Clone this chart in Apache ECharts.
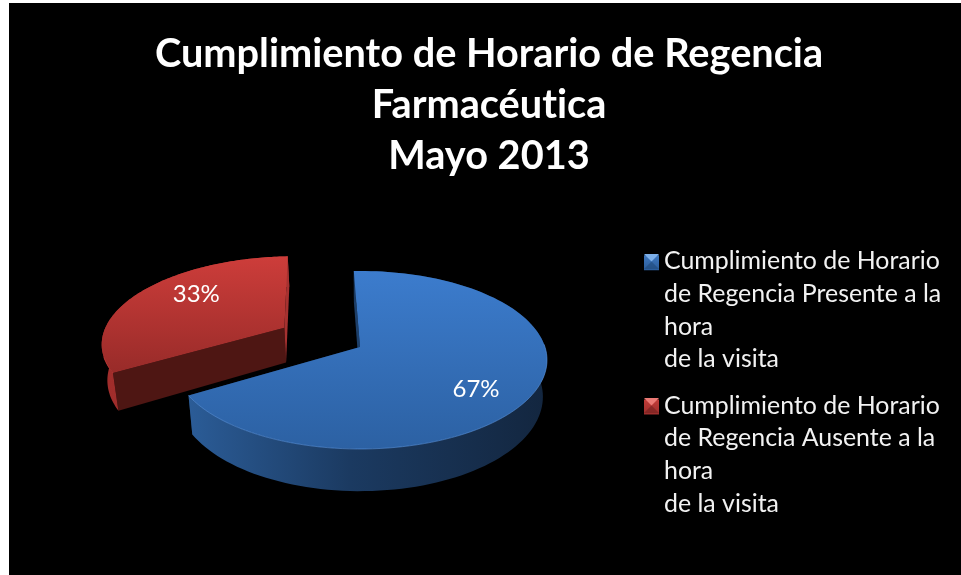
<!DOCTYPE html>
<html><head><meta charset="utf-8">
<style>html,body{margin:0;padding:0;background:#fff;overflow:hidden}
#bg{position:absolute;left:9px;top:3px;width:952px;height:572px;background:#000}
#c{position:absolute;left:0;top:0;width:961px;height:575px}</style>
<script src="https://cdn.jsdelivr.net/npm/echarts@6/dist/echarts.min.js"></script>
</head><body><div id="bg"></div><div id="c"></div>
<script>
const categories = [
  'Cumplimiento de Horario\nde Regencia Presente a la\nhora\nde la visita',
  'Cumplimiento de Horario\nde Regencia Ausente a la\nhora\nde la visita'
];
const values = [67, 33];
const titleLines = ['Cumplimiento de Horario de Regencia', 'Farmacéutica', 'Mayo 2013'];
const explode = [0, 0.48];

// plain glyphs, no "ti" ligature in canvas text
const origGetContext = HTMLCanvasElement.prototype.getContext;
HTMLCanvasElement.prototype.getContext = function () {
  const ctx = origGetContext.apply(this, arguments);
  if (ctx && 'textRendering' in ctx) ctx.textRendering = 'optimizeSpeed';
  return ctx;
};

// projection of the pie disc (perspective view)
const P = {cx: 360, cy: 347, B: 185, A: 87.1, k: 0.146, depth: 36, converge: 0.978, startDeg: -2.2};
const labelLocal = [[0.586, 0.45], [-0.549, -0.44]];
const total = values.reduce((a, b) => a + b, 0);
function project(u, v, down) {
  const d = 1 - P.k * v;
  const x = P.B * u / d;
  return [P.cx + (down ? x * P.converge : x), P.cy + P.A * v / d + (down ? P.depth / d : 0)];
}
const LG = echarts.graphic.LinearGradient;
const skins = [
  {top: new LG(0,0,0,1,[{offset:0,color:'#3c7ccd'},{offset:1,color:'#2c61a3'}]),
   wall: new LG(0,0,1,0,[{offset:0,color:'#2b5c97'},{offset:.45,color:'#1b3a61'},{offset:1,color:'#13263f'}]),
   startFace: '#1d3f69', inner: '#16304f', rim: '#5a95e0', rimOpacity: .6},
  {top: new LG(0,0,0,1,[{offset:0,color:'#cd3d3a'},{offset:1,color:'#982b29'}]),
   wall: new LG(0,0,1,0,[{offset:0,color:'#a02d2b'},{offset:1,color:'#a63130'}]),
   startFace: '#a63130', inner: '#4e1613', rim: '#c43a38', rimOpacity: .7}
];
function renderSlice(params, api) {
  const i = params.seriesIndex;
  let before = 0;
  for (let j = 0; j < i; j++) before += values[j];
  const v0 = api.value(0);
  const a0 = P.startDeg + before / total * 360;
  const a1 = a0 + v0 / total * 360;
  const mid = (a0 + a1) / 2 * Math.PI / 180;
  const ox = Math.sin(mid) * explode[i], oy = -Math.cos(mid) * explode[i];
  const arcT = [], arcB = [], disc = [];
  for (let n = 0; n <= 120; n++) {
    const r = (a0 + (a1 - a0) * n / 120) * Math.PI / 180;
    const u = Math.sin(r) + ox, w = -Math.cos(r) + oy;
    disc.push([u, w]);
    arcT.push(project(u, w, false));
    arcB.push(project(u, w, true));
  }
  const cT = project(ox, oy, false), cB = project(ox, oy, true);
  const s = skins[i];
  const children = [];
  const first = i === 0 ? s.startFace : s.inner;
  const last = i === 0 ? s.inner : s.startFace;
  children.push({type:'polygon', shape:{points:[cT, arcT[0], arcB[0], cB]}, style:{fill:first}});
  children.push({type:'polygon', shape:{points:[cT, arcT[120], arcB[120], cB]}, style:{fill:last}});
  children.push({type:'polygon', shape:{points:arcT.concat(arcB.slice().reverse())}, style:{fill:s.wall}});
  children.push({type:'polygon', shape:{points:[cT].concat(arcT)}, style:{fill:s.top}});
  const front = arcT.filter((p, n) => disc[n][1] > (i === 0 ? -0.05 : 0.1));
  children.push({type:'polyline', shape:{points:front}, style:{fill:null, stroke:s.rim, lineWidth:1, opacity:s.rimOpacity}});
  const lp = project(labelLocal[i][0] + ox, labelLocal[i][1] + oy, false);
  children.push({type:'text', x:lp[0], y:lp[1], style:{
    text: Math.round(v0 / total * 100) + '%', fill:'#fff', font:'normal normal 24px "Lato", sans-serif', fontFamily:'Lato', fontSize:24, fontWeight:'normal', align:'center', verticalAlign:'middle'}});
  return {type:'group', children};
}
const markerPath = 'path://M0 0H15V15H0Z M0 110H0.01V110.01H0Z';
function markerGlint(x, y, light, dark) {
  return [
    {type:'polygon', z:100, silent:true, shape:{points:[[x,y],[x+15,y],[x+7.5,y+7.5]]}, style:{fill:light}},
    {type:'polygon', z:100, silent:true, shape:{points:[[x,y+15],[x+15,y+15],[x+7.5,y+7.5]]}, style:{fill:dark, opacity:.55}}
  ];
}
const chart = echarts.init(document.getElementById('c'), null, {renderer:'canvas', width:961, height:575});
chart.setOption({
  backgroundColor:'transparent',
  animation:false,
  title:{text:titleLines.join('\n'), left:484, top:24, textAlign:'center',
    textStyle:{color:'#fff', fontFamily:'Lato', fontWeight:'bold', fontSize:39.7, lineHeight:51}},
  legend:{orient:'vertical', left:639, top:240, itemWidth:15, itemHeight:110, itemGap:14, selectedMode:false,
    icon:markerPath, textStyle:{color:'#f2f2f2', fontFamily:'Lato', fontSize:24.9, lineHeight:32.6},
    data:[
      {name:categories[0], itemStyle:{color:new LG(0,0,0,1,[{offset:0,color:'#3f78bf'},{offset:.136,color:'#2a5c9b'}])}},
      {name:categories[1], itemStyle:{color:new LG(0,0,0,1,[{offset:0,color:'#c23c39'},{offset:.136,color:'#9c2e2c'}])}}
    ]},
  graphic: markerGlint(644, 254, '#7db0ea', '#1f4775').concat(markerGlint(644, 398, '#ec7a75', '#6d1f1d')),
  series: categories.map((name, i) => ({
    type:'custom', name, coordinateSystem:'none', renderItem:renderSlice,
    itemStyle:{color: i === 0 ? '#3a76c0' : '#c03a38'},
    data:[[values[i]]], silent:true
  }))
});
</script></body></html>
